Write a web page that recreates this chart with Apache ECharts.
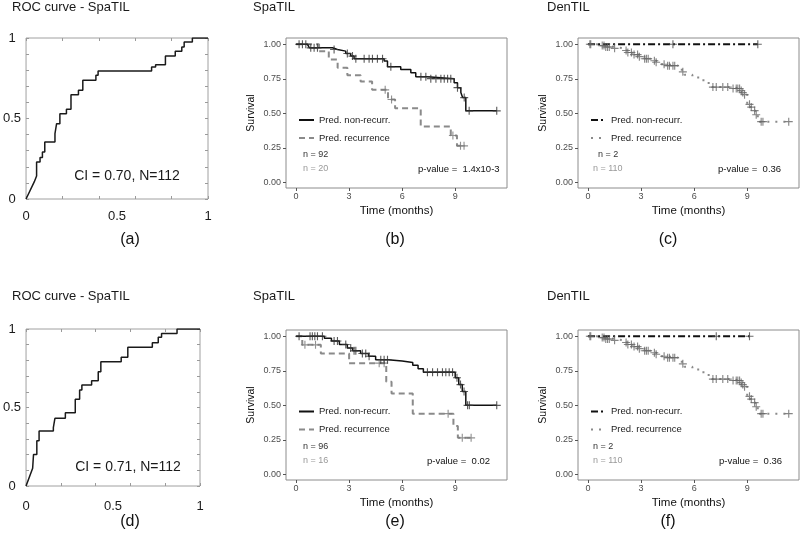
<!DOCTYPE html>
<html><head><meta charset="utf-8">
<script src="https://cdn.jsdelivr.net/npm/echarts@6/dist/echarts.min.js"></script>
<style>html,body{margin:0;padding:0;background:#fff}#c{width:800px;height:554px}</style>
</head><body><div id="c"></div>
<script>
// ---------- DATA ----------
// ROC curves (false positive rate, true positive rate vertices)
const rocA_fpr = [0,0.045,0.058,0.058,0.077,0.077,0.09,0.09,0.103,0.103,0.159,0.159,0.168,0.168,0.186,0.186,0.222,0.222,0.247,0.247,0.288,0.288,0.312,0.312,0.384,0.384,0.396,0.396,0.69,0.69,0.712,0.712,0.766,0.766,0.82,0.82,0.856,0.856,0.869,0.869,0.914,0.914,1];
const rocA_tpr = [0,0.106,0.143,0.23,0.23,0.258,0.258,0.292,0.292,0.354,0.354,0.406,0.406,0.468,0.468,0.53,0.53,0.557,0.557,0.648,0.648,0.675,0.675,0.737,0.737,0.768,0.768,0.795,0.795,0.82,0.82,0.834,0.834,0.888,0.888,0.917,0.917,0.944,0.944,0.975,0.975,1,1];
const rocD_fpr = [0,0.038,0.043,0.043,0.062,0.062,0.075,0.075,0.157,0.157,0.166,0.166,0.226,0.226,0.283,0.283,0.308,0.308,0.321,0.321,0.377,0.377,0.415,0.415,0.43,0.43,0.547,0.547,0.585,0.585,0.726,0.726,0.76,0.76,0.779,0.779,0.868,0.868,1];
const rocD_tpr = [0,0.113,0.113,0.2,0.2,0.289,0.289,0.35,0.35,0.372,0.372,0.431,0.431,0.467,0.467,0.552,0.552,0.611,0.611,0.643,0.643,0.671,0.671,0.728,0.728,0.792,0.792,0.82,0.82,0.883,0.883,0.913,0.913,0.947,0.947,0.972,0.972,1,1];
const rocLabelVals = [0,0.5,1];
const rocXTicks = [0,0.2,0.4,0.6,0.8,1];
const rocYTicks = [0,0.1,0.2,0.3,0.4,0.5,0.6,0.7,0.8,0.9,1];

// Kaplan-Meier curves: step times (months) and survival levels, censor times
const bNonT = [0,0.64,0.75,2.06,2.34,2.81,3.09,3.28,4.98,5.17,5.92,6.49,6.77,7.43,8.94,9.13,9.32,9.42,9.6,11.35];
const bNonS = [1,0.986,0.974,0.962,0.95,0.933,0.914,0.895,0.878,0.837,0.818,0.794,0.765,0.751,0.722,0.686,0.65,0.614,0.518,0.518];
const bNonCens = [0.17,0.36,0.55,0.83,1.02,1.21,2.15,2.9,3.19,3.38,3.85,4.13,4.32,4.6,4.89,5.36,7.06,7.34,7.62,7.91,8.19,8.38,8.57,8.75,9.13,9.51,9.79,11.35];
const bRecT = [0,1.3,1.85,2.35,2.9,3.65,4.3,5.2,5.6,7.05,8.75,9.1,9.55];
const bRecS = [1,0.95,0.89,0.83,0.775,0.73,0.67,0.6,0.537,0.405,0.34,0.265,0.265];
const bRecCens = [5.04,5.4,8.87,9.3,9.5];

const eNonT = [0,1.6,2.0,2.45,2.9,3.2,3.65,4.1,4.5,5.2,6.0,6.6,6.9,7.2,9.0,9.2,9.4,9.6,11.35];
const eNonS = [1,0.985,0.965,0.94,0.915,0.895,0.875,0.855,0.83,0.82,0.81,0.79,0.765,0.74,0.70,0.65,0.60,0.5,0.5];
const eNonCens = [0.17,0.79,0.92,1.06,1.21,1.49,2.15,2.34,2.81,3.09,3.28,3.38,3.75,3.94,4.13,4.79,4.98,5.17,7.43,7.72,8.0,8.28,8.47,8.66,8.85,9.1,9.3,9.5,9.7,9.8,11.35];
const eRecT = [0,0.35,1.4,3.0,5.1,5.4,6.6,8.9,9.15,9.9];
const eRecS = [1,0.9375,0.875,0.805,0.67,0.585,0.44,0.35,0.265,0.265];
const eRecCens = [0.5,1.1,4.7,4.98,8.6,9.4,9.9];

const cNonT = [0,9.6];
const cNonS = [1,1];
const cNonCens = [4.8,9.6];
const fNonT = [0,9.13];
const fNonS = [1,1];
const fNonCens = [7.25,9.13];
const denRecT = [0,0.5,1.0,1.5,2.05,2.25,2.5,2.85,3.2,3.55,3.85,4.1,4.5,5.1,5.3,5.45,5.9,6.3,6.7,7.0,8.1,8.6,8.7,8.85,9.0,9.15,9.3,9.45,9.6,11.35];
const denRecS = [1,0.99,0.98,0.97,0.955,0.94,0.925,0.91,0.895,0.88,0.87,0.855,0.845,0.83,0.8,0.78,0.76,0.74,0.72,0.69,0.68,0.665,0.65,0.635,0.565,0.545,0.52,0.49,0.44,0.44];
const denRecCens = [0.1,0.15,0.8,0.9,1.0,1.1,1.2,1.5,2.15,2.25,2.45,2.6,2.8,2.9,3.2,3.3,3.4,3.75,3.85,4.3,4.5,4.6,4.8,4.9,5.36,7.06,7.25,7.62,7.9,8.2,8.38,8.47,8.57,8.66,8.75,8.85,9.13,9.23,9.42,9.51,9.79,9.89,11.35];

const kmXTicks = [0,3,6,9];
const kmYTicks = [0,0.25,0.5,0.75,1];

const panelTitles = ['ROC curve - SpaTIL','SpaTIL','DenTIL','ROC curve - SpaTIL','SpaTIL','DenTIL'];
const captions = ['(a)','(b)','(c)','(d)','(e)','(f)'];
const ciTexts = ['CI = 0.70, N=112','CI = 0.71, N=112'];
const nTexts = {b:['n = 92','n = 20'], c:['n = 2','n = 110'], e:['n = 96','n = 16'], f:['n = 2','n = 110']};
const pTexts = {b:'p-value =  1.4x10-3', c:'p-value =  0.36', e:'p-value =  0.02', f:'p-value =  0.36'};
const legendNames = {
  b_non:'Pred. non-recurr.', b_rec:'Pred. recurrence',
  c_non:'Pred. non-recurr.', c_rec:'Pred. recurrence',
  e_non:'Pred. non-recurr.', e_rec:'Pred. recurrence',
  f_non:'Pred. non-recurr.', f_rec:'Pred. recurrence'
};

// ---------- CHART ----------
const FONT = '"Liberation Sans", Arial, sans-serif';
const PLUS = 'path://M4.3,0H5.7V4.3H10V5.7H5.7V10H4.3V5.7H0V4.3H4.3Z';
const zip = (a,b) => a.map((v,i)=>[v,b[i]]);
const survAt = (T,S,t) => { let v = S[0]; for (let i=0;i<T.length;i++){ if (T[i] <= t + 1e-9) v = S[i]; } return v; };

const gridDefs = [
  {left:23, top:38, width:185, height:161, roc:true},
  {left:286, top:38, width:221, height:150},
  {left:578, top:38, width:221, height:150},
  {left:23, top:329, width:177, height:157, roc:true},
  {left:286, top:330, width:221, height:150},
  {left:578, top:330, width:221, height:150}
];
const grid = gridDefs.map(g => ({left:g.left, top:g.top, width:g.width, height:g.height, show:true,
  borderColor: g.roc ? '#a0a0a0' : '#8c8c8c', borderWidth:1, backgroundColor:'transparent'}));

const xAxis = [], yAxis = [], series = [];
const axisIdx = [];
gridDefs.forEach((g, gi) => {
  const xi = xAxis.length, yi = yAxis.length;
  if (g.roc) {
    const lblMargin = gi === 0 ? 11 : 14;
    ['bottom','top'].forEach((pos, k) => xAxis.push({gridIndex:gi, type:'value', min:0, max:1, position:pos,
      axisLine:{show:false, onZero:false}, splitLine:{show:false},
      axisTick:{show:true, inside:true, length:3, lineStyle:{color:'#9a9a9a'}, customValues: rocXTicks},
      axisLabel: k === 0 ? {customValues: rocLabelVals, formatter: v => String(v), margin: lblMargin, color:'#1a1a1a', fontSize:13, fontFamily:FONT} : {show:false}}));
    ['left','right'].forEach((pos, k) => yAxis.push({gridIndex:gi, type:'value', min:0, max:1, position:pos,
      axisLine:{show:false, onZero:false}, splitLine:{show:false},
      axisTick:{show:true, inside:true, length:3, lineStyle:{color:'#9a9a9a'}, customValues: rocYTicks},
      axisLabel: k === 0 ? {customValues: rocLabelVals, formatter: v => String(v), margin: 14, align:'center', color:'#1a1a1a', fontSize:13, fontFamily:FONT} : {show:false}}));
  } else {
    xAxis.push({gridIndex:gi, type:'value', min:-0.57, max:11.93, position:'bottom',
      axisLine:{show:false, onZero:false}, splitLine:{show:false},
      axisTick:{show:true, length:3, lineStyle:{color:'#555'}, customValues: kmXTicks},
      axisLabel:{customValues: kmXTicks, margin:4, color:'#4d4d4d', fontSize:9, fontFamily:FONT},
      name:'Time (months)', nameLocation:'middle', nameGap:17,
      nameTextStyle:{fontSize:11.5, color:'#111', fontFamily:FONT}});
    yAxis.push({gridIndex:gi, type:'value', min:-0.04, max:1.045, position:'left',
      axisLine:{show:false, onZero:false}, splitLine:{show:false},
      axisTick:{show:true, length:3, lineStyle:{color:'#555'}, customValues: kmYTicks},
      axisLabel:{customValues: kmYTicks, formatter: v => v.toFixed(2), margin:5, color:'#4d4d4d', fontSize:9, fontFamily:FONT},
      name:'Survival', nameLocation:'middle', nameGap:29,
      nameTextStyle:{fontSize:10.5, color:'#111', fontFamily:FONT}});
  }
  axisIdx.push([xi, yi]);
});

function rocSeries(gi, fpr, tpr) {
  series.push({type:'line', name:'roc'+gi, xAxisIndex:axisIdx[gi][0], yAxisIndex:axisIdx[gi][1],
    data: zip(fpr, tpr), symbol:'none', lineStyle:{color:'#1a1a1a', width:1.5}, silent:true});
}
function kmSeries(gi, key, T, S, cens, lineStyle, censColor) {
  series.push({type:'line', step:'end', name:key, xAxisIndex:axisIdx[gi][0], yAxisIndex:axisIdx[gi][1],
    data: zip(T, S), symbol:'none', lineStyle: lineStyle, itemStyle:{color: lineStyle.color}, silent:true});
  series.push({type:'scatter', name:key+'_cens', xAxisIndex:axisIdx[gi][0], yAxisIndex:axisIdx[gi][1],
    data: cens.map(t => [t, survAt(T, S, t)]), symbol: PLUS, symbolSize: 8,
    itemStyle:{color: censColor}, silent:true, z:3});
}
const solidBlack = {color:'#111', width:1.5, type:'solid'};
const dashedGray = {color:'#8a8a8a', width:2, type:[6,4]};
const dashDotBlack = {color:'#111', width:2, type:[7,3,2,3]};
const dottedGray = {color:'#8a8a8a', width:2, type:[2,6]};

rocSeries(0, rocA_fpr, rocA_tpr);
rocSeries(3, rocD_fpr, rocD_tpr);
kmSeries(1, 'b_rec', bRecT, bRecS, bRecCens, dashedGray, '#777');
kmSeries(1, 'b_non', bNonT, bNonS, bNonCens, solidBlack, '#333');
kmSeries(4, 'e_rec', eRecT, eRecS, eRecCens, dashedGray, '#777');
kmSeries(4, 'e_non', eNonT, eNonS, eNonCens, solidBlack, '#333');
kmSeries(2, 'c_rec', denRecT, denRecS, denRecCens, dottedGray, '#666');
kmSeries(2, 'c_non', cNonT, cNonS, cNonCens, dashDotBlack, '#444');
kmSeries(5, 'f_rec', denRecT, denRecS, denRecCens, dottedGray, '#666');
kmSeries(5, 'f_non', fNonT, fNonS, fNonCens, dashDotBlack, '#444');

const legendBase = {orient:'vertical', itemWidth:15, itemHeight:10, itemGap:7, selectedMode:false,
  itemStyle:{opacity:0},
  formatter: n => legendNames[n], textStyle:{fontSize:9.5, color:'#222', fontFamily:FONT, lineHeight:11}, padding:0};
const legend = [
  Object.assign({}, legendBase, {data:['b_non','b_rec'], left:298, top:114.5}),
  Object.assign({}, legendBase, {data:['c_non','c_rec'], left:590, top:114.5}),
  Object.assign({}, legendBase, {data:['e_non','e_rec'], left:298, top:406}),
  Object.assign({}, legendBase, {data:['f_non','f_rec'], left:590, top:406})
];

const txt = (text, x, y, size, color, align) => ({type:'text', x:x, y:y, silent:true,
  style:{text:text, font: size + 'px ' + FONT, fill: color || '#1a1a1a', textAlign: align || 'left', textVerticalAlign:'middle'}});
const graphic = [
  txt(panelTitles[0], 12, 7.5, 13), txt(panelTitles[1], 253, 7.5, 13), txt(panelTitles[2], 547, 7.5, 13),
  txt(panelTitles[3], 12, 296.7, 13), txt(panelTitles[4], 253, 296.7, 13), txt(panelTitles[5], 547, 296.7, 13),
  txt(captions[0], 130, 240, 16, '#111', 'center'), txt(captions[1], 395, 240, 16, '#111', 'center'), txt(captions[2], 668, 240, 16, '#111', 'center'),
  txt(captions[3], 130, 522, 16, '#111', 'center'), txt(captions[4], 395, 522, 16, '#111', 'center'), txt(captions[5], 668, 522, 16, '#111', 'center'),
  txt(ciTexts[0], 127, 176, 14, '#1a1a1a', 'center'), txt(ciTexts[1], 128, 467, 14, '#1a1a1a', 'center'),
  txt(nTexts.b[0], 303, 155, 9, '#333'), txt(nTexts.b[1], 303, 169, 9, '#999'), txt(pTexts.b, 418, 169, 9.5, '#111'),
  txt(nTexts.e[0], 303, 447, 9, '#333'), txt(nTexts.e[1], 303, 461, 9, '#999'), txt(pTexts.e, 427, 461, 9.5, '#111'),
  txt(nTexts.c[0], 598, 155, 9, '#333'), txt(nTexts.c[1], 593, 169, 9, '#999'), txt(pTexts.c, 718, 169, 9.5, '#111'),
  txt(nTexts.f[0], 593, 447, 9, '#333'), txt(nTexts.f[1], 593, 461, 9, '#999'), txt(pTexts.f, 719, 461, 9.5, '#111')
];

const chart = echarts.init(document.getElementById('c'), null, {renderer:'canvas'});
chart.setOption({animation:false, backgroundColor:'#fff', grid, xAxis, yAxis, series, legend, graphic});
</script>
</body></html>
